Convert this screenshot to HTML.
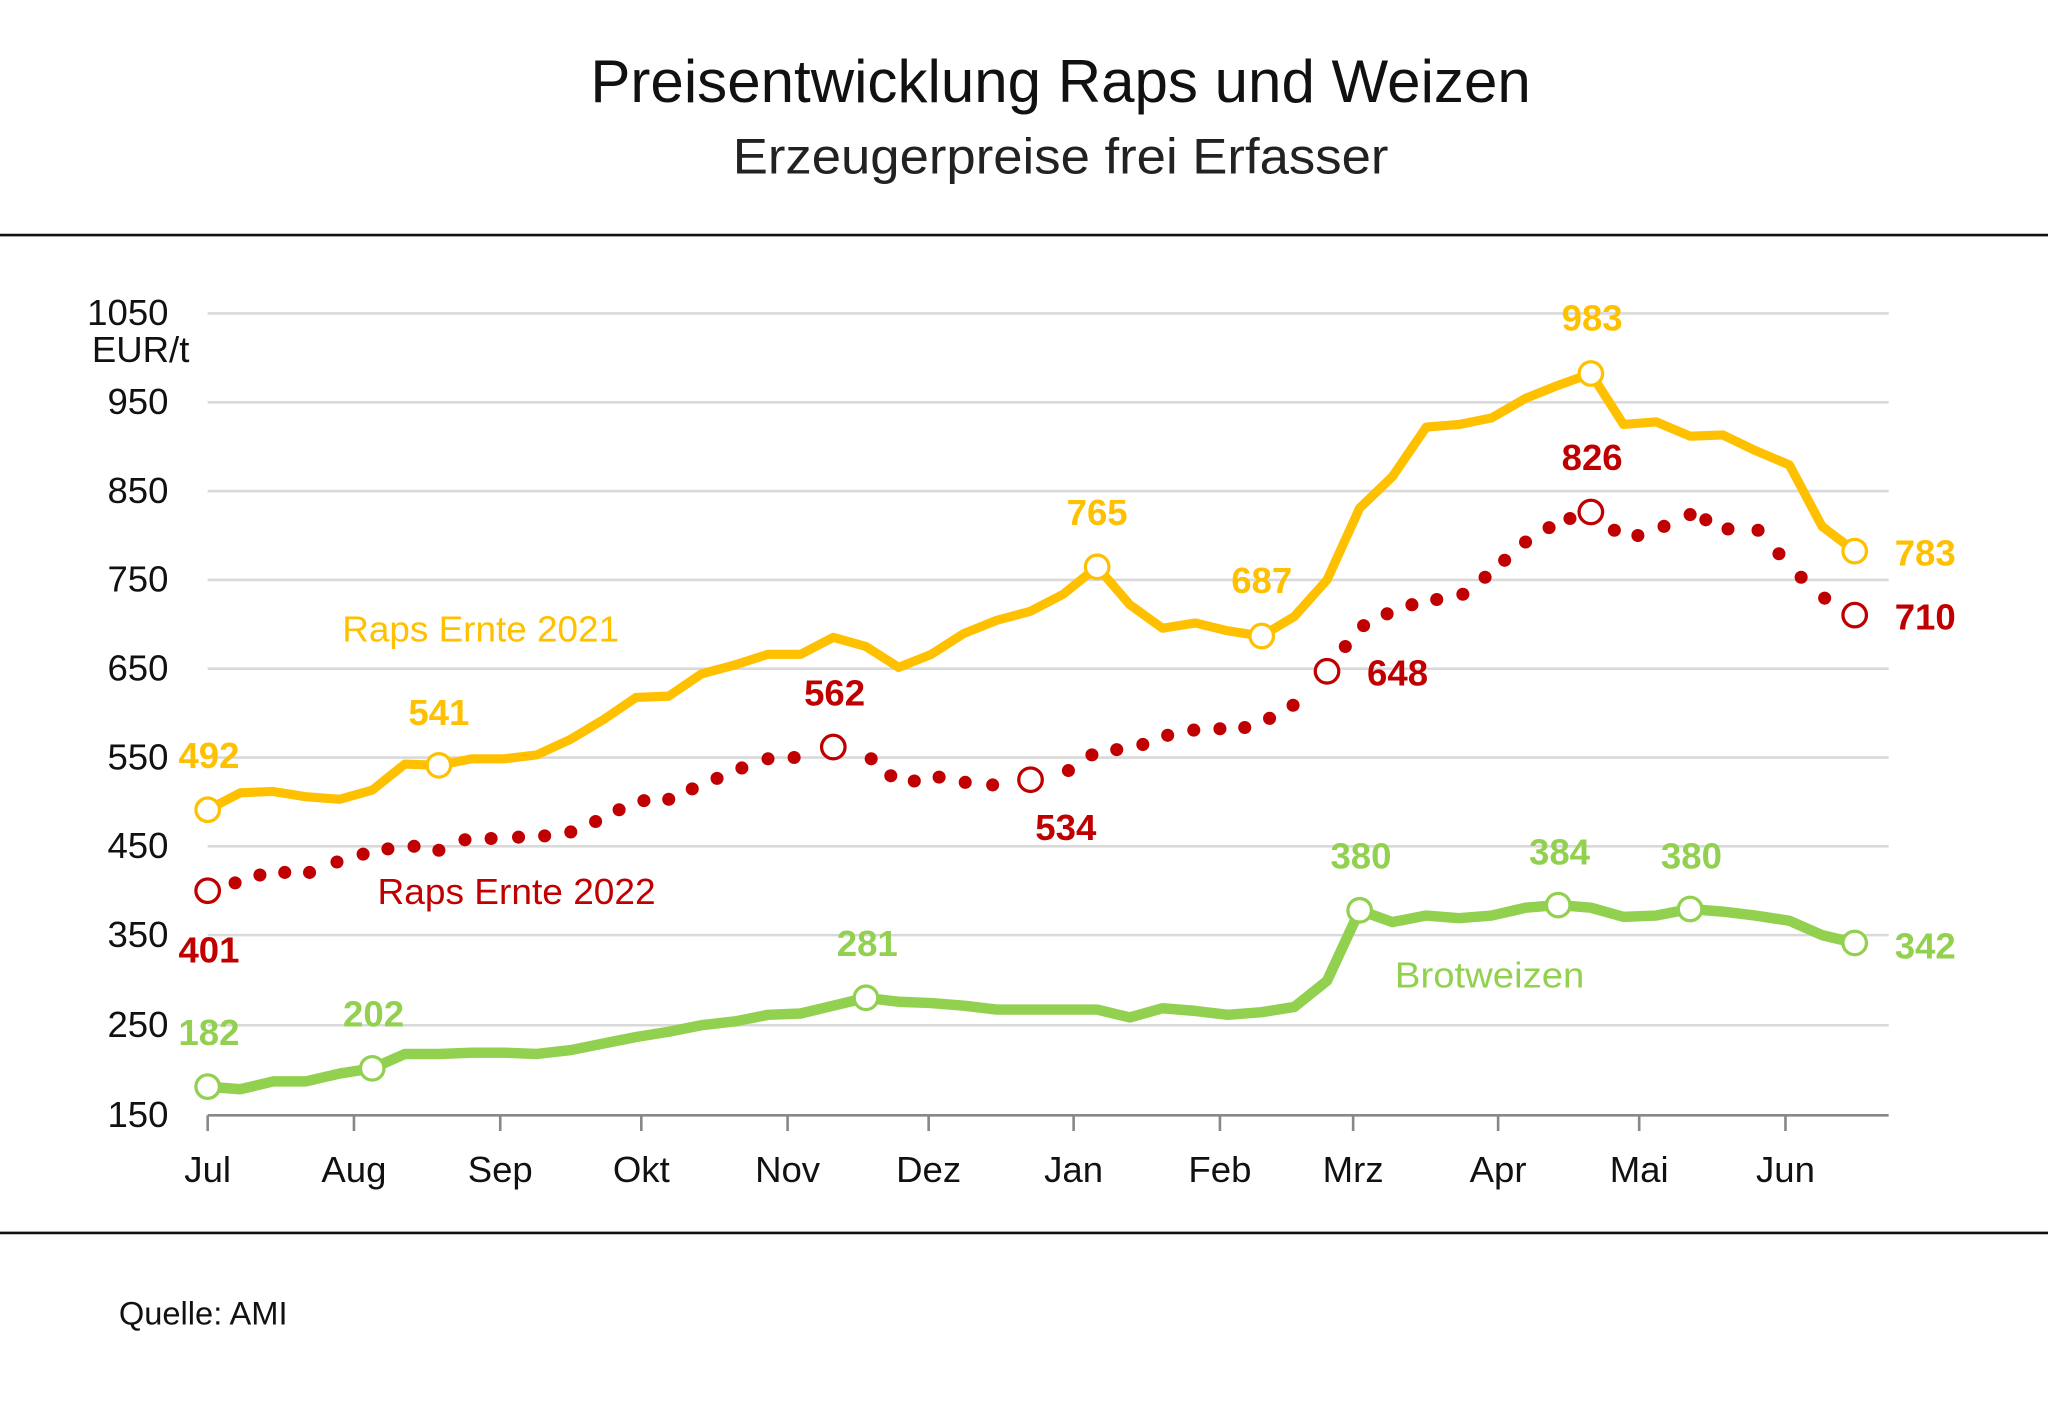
<!DOCTYPE html>
<html><head><meta charset="utf-8"><style>
html,body{margin:0;padding:0;background:#fff;}
svg{display:block;}
text{font-family:"Liberation Sans",sans-serif;}
</style></head><body>
<svg width="2048" height="1404" viewBox="0 0 1568 1075" preserveAspectRatio="none" xmlns="http://www.w3.org/2000/svg">
<text x="812" y="78" font-size="46" text-anchor="middle" fill="#111" textLength="720" lengthAdjust="spacingAndGlyphs">Preisentwicklung Raps und Weizen</text>
<text x="812" y="133" font-size="38" text-anchor="middle" fill="#222" textLength="502" lengthAdjust="spacingAndGlyphs">Erzeugerpreise frei Erfasser</text>
<line x1="0" y1="180" x2="1568" y2="180" stroke="#111" stroke-width="2"/>
<line x1="0" y1="944" x2="1568" y2="944" stroke="#111" stroke-width="2"/>
<text x="91" y="1014" font-size="25" fill="#111">Quelle: AMI</text>
<g stroke="#d9d9d9" stroke-width="2">
<line x1="159" y1="240" x2="1446" y2="240"/><line x1="159" y1="308" x2="1446" y2="308"/>
<line x1="159" y1="376" x2="1446" y2="376"/><line x1="159" y1="444" x2="1446" y2="444"/>
<line x1="159" y1="512" x2="1446" y2="512"/><line x1="159" y1="580" x2="1446" y2="580"/>
<line x1="159" y1="648" x2="1446" y2="648"/><line x1="159" y1="716" x2="1446" y2="716"/>
<line x1="159" y1="785" x2="1446" y2="785"/>
</g>
<line x1="159" y1="854" x2="1446" y2="854" stroke="#888" stroke-width="2"/>
<g stroke="#888" stroke-width="2">
<line x1="159" y1="854" x2="159" y2="866"/><line x1="271" y1="854" x2="271" y2="866"/><line x1="383" y1="854" x2="383" y2="866"/><line x1="491" y1="854" x2="491" y2="866"/><line x1="603" y1="854" x2="603" y2="866"/><line x1="711" y1="854" x2="711" y2="866"/><line x1="822" y1="854" x2="822" y2="866"/><line x1="934" y1="854" x2="934" y2="866"/><line x1="1036" y1="854" x2="1036" y2="866"/><line x1="1147" y1="854" x2="1147" y2="866"/><line x1="1255" y1="854" x2="1255" y2="866"/><line x1="1367" y1="854" x2="1367" y2="866"/>
</g>
<g font-size="28" fill="#111" text-anchor="middle">
<text x="159" y="905">Jul</text><text x="271" y="905">Aug</text><text x="383" y="905">Sep</text><text x="491" y="905">Okt</text><text x="603" y="905">Nov</text><text x="711" y="905">Dez</text><text x="822" y="905">Jan</text><text x="934" y="905">Feb</text><text x="1036" y="905">Mrz</text><text x="1147" y="905">Apr</text><text x="1255" y="905">Mai</text><text x="1367" y="905">Jun</text>
</g>
<g font-size="28" fill="#111" text-anchor="end">
<text x="129" y="249">1050</text><text x="145" y="277">EUR/t</text>
<text x="129" y="317">950</text><text x="129" y="385">850</text><text x="129" y="453">750</text><text x="129" y="521">650</text><text x="129" y="589">550</text><text x="129" y="657">450</text><text x="129" y="725">350</text><text x="129" y="794">250</text><text x="129" y="863">150</text>
</g>
<polyline fill="none" stroke="#ffc000" stroke-width="7" stroke-linejoin="round" points="159,620 184,607 209,606 234,610 260,612 285,605 310,585 336,586 361,581 386,581 411,578 437,566 462,551 487,534 512,533 537,516 563,509 588,501 613,501 638,488 663,495 688,511 713,501 738,485 763,475 789,468 814,455 840,434 865,463 890,481 915,477 940,483 966,487 991,472 1016,444 1041,389 1066,365 1092,327 1117,325 1142,320 1168,305 1193,295 1218,286 1243,325 1268,323 1294,334 1319,333 1344,345 1370,356 1395,403 1420,422"/>
<polyline fill="none" stroke="#92d050" stroke-width="8" stroke-linejoin="round" points="159,832 184,834 209,828 234,828 260,822 285,818 310,807 336,807 361,806 386,806 411,807 437,804 462,799 487,794 512,790 537,785 563,782 588,777 613,776 638,770 663,764 688,767 713,768 738,770 763,773 789,773 814,773 840,773 865,779 890,772 915,774 940,777 966,775 991,771 1016,751 1041,697 1066,706 1092,701 1117,703 1142,701 1168,695 1193,693 1218,695 1243,702 1268,701 1294,696 1319,698 1344,701 1370,705 1395,716 1420,722"/>
<g fill="#c00000">
<circle cx="180" cy="676" r="5"/><circle cx="199" cy="670" r="5"/><circle cx="218" cy="668" r="5"/><circle cx="237" cy="668" r="5"/><circle cx="258" cy="660" r="5"/><circle cx="278" cy="654" r="5"/><circle cx="297" cy="650" r="5"/><circle cx="317" cy="648" r="5"/><circle cx="336" cy="651" r="5"/><circle cx="356" cy="643" r="5"/><circle cx="376" cy="642" r="5"/><circle cx="397" cy="641" r="5"/><circle cx="417" cy="640" r="5"/><circle cx="437" cy="637" r="5"/><circle cx="456" cy="629" r="5"/><circle cx="474" cy="620" r="5"/><circle cx="493" cy="613" r="5"/><circle cx="512" cy="612" r="5"/><circle cx="530" cy="604" r="5"/><circle cx="549" cy="596" r="5"/><circle cx="568" cy="588" r="5"/><circle cx="588" cy="581" r="5"/><circle cx="608" cy="580" r="5"/><circle cx="667" cy="581" r="5"/><circle cx="682" cy="594" r="5"/><circle cx="700" cy="598" r="5"/><circle cx="719" cy="595" r="5"/><circle cx="739" cy="599" r="5"/><circle cx="760" cy="601" r="5"/><circle cx="818" cy="590" r="5"/><circle cx="836" cy="578" r="5"/><circle cx="855" cy="574" r="5"/><circle cx="875" cy="570" r="5"/><circle cx="894" cy="563" r="5"/><circle cx="914" cy="559" r="5"/><circle cx="934" cy="558" r="5"/><circle cx="953" cy="557" r="5"/><circle cx="972" cy="550" r="5"/><circle cx="990" cy="540" r="5"/><circle cx="1030" cy="495" r="5"/><circle cx="1044" cy="479" r="5"/><circle cx="1062" cy="470" r="5"/><circle cx="1081" cy="463" r="5"/><circle cx="1100" cy="459" r="5"/><circle cx="1120" cy="455" r="5"/><circle cx="1137" cy="442" r="5"/><circle cx="1152" cy="429" r="5"/><circle cx="1168" cy="415" r="5"/><circle cx="1186" cy="404" r="5"/><circle cx="1202" cy="397" r="5"/><circle cx="1236" cy="406" r="5"/><circle cx="1254" cy="410" r="5"/><circle cx="1274" cy="403" r="5"/><circle cx="1294" cy="394" r="5"/><circle cx="1306" cy="398" r="5"/><circle cx="1323" cy="405" r="5"/><circle cx="1346" cy="406" r="5"/><circle cx="1362" cy="424" r="5"/><circle cx="1379" cy="442" r="5"/><circle cx="1397" cy="458" r="5"/>
</g>
<g fill="#fff" stroke-width="2.5">
<g stroke="#ffc000"><circle cx="159" cy="620" r="9"/><circle cx="336" cy="586" r="9"/><circle cx="840" cy="434" r="9"/><circle cx="966" cy="487" r="9"/><circle cx="1218" cy="286" r="9"/><circle cx="1420" cy="422" r="9"/></g>
<g stroke="#c00000"><circle cx="159" cy="682" r="9"/><circle cx="638" cy="572" r="9"/><circle cx="789" cy="597" r="9"/><circle cx="1016" cy="514" r="9"/><circle cx="1218" cy="392" r="9"/><circle cx="1420" cy="471" r="9"/></g>
<g stroke="#92d050"><circle cx="159" cy="832" r="9"/><circle cx="285" cy="818" r="9"/><circle cx="663" cy="764" r="9"/><circle cx="1041" cy="697" r="9"/><circle cx="1193" cy="693" r="9"/><circle cx="1294" cy="696" r="9"/><circle cx="1420" cy="722" r="9"/></g>
</g>
<g font-size="28" font-weight="bold" text-anchor="middle">
<g fill="#ffc000"><text x="160" y="588">492</text><text x="336" y="555">541</text><text x="840" y="402">765</text><text x="966" y="454">687</text><text x="1219" y="253">983</text><text x="1474" y="433">783</text></g>
<g fill="#c00000"><text x="160" y="737">401</text><text x="639" y="540">562</text><text x="816" y="643">534</text><text x="1070" y="525">648</text><text x="1219" y="360">826</text><text x="1474" y="482">710</text></g>
<g fill="#92d050"><text x="160" y="800">182</text><text x="286" y="786">202</text><text x="664" y="732">281</text><text x="1042" y="665">380</text><text x="1194" y="662">384</text><text x="1295" y="665">380</text><text x="1474" y="734">342</text></g>
</g>
<g font-size="28">
<text x="262" y="491" fill="#ffc000" textLength="212" lengthAdjust="spacingAndGlyphs">Raps Ernte 2021</text>
<text x="289" y="692" fill="#c00000" textLength="213" lengthAdjust="spacingAndGlyphs">Raps Ernte 2022</text>
<text x="1068" y="756" fill="#92d050" textLength="145" lengthAdjust="spacingAndGlyphs">Brotweizen</text>
</g>
</svg>
</body></html>
